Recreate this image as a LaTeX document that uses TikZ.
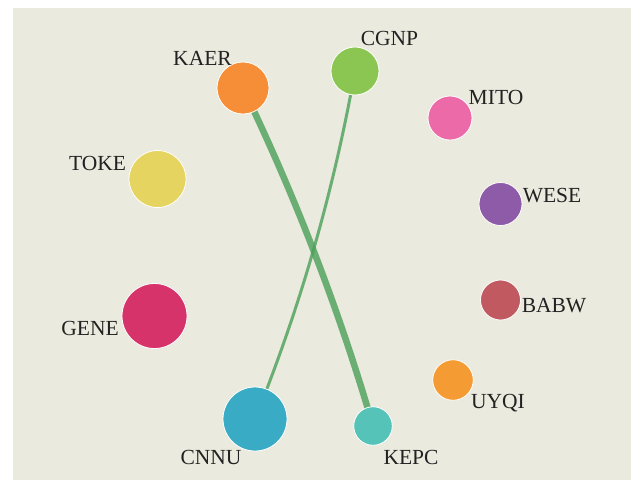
\documentclass[tikz,border=0pt]{standalone}
\usepackage{fontspec}
\setmainfont{Liberation Serif}
\definecolor{bgc}{RGB}{234,234,222}
\definecolor{linkc}{RGB}{76,160,90}
\definecolor{txtc}{RGB}{34,34,34}
\definecolor{cKAER}{RGB}{245,142,55}
\definecolor{cCGNP}{RGB}{139,198,83}
\definecolor{cMITO}{RGB}{236,106,168}
\definecolor{cTOKE}{RGB}{229,212,95}
\definecolor{cWESE}{RGB}{142,91,168}
\definecolor{cGENE}{RGB}{214,51,107}
\definecolor{cBABW}{RGB}{192,90,96}
\definecolor{cUYQI}{RGB}{245,155,51}
\definecolor{cCNNU}{RGB}{58,171,197}
\definecolor{cKEPC}{RGB}{85,195,184}
\tikzset{
  dot/.style={circle, inner sep=0pt, draw=white, line width=0.8pt},
  lbl/.style={anchor=base, text=txtc, font=\fontsize{21.5}{25}\selectfont, inner sep=0pt},
  link/.style={draw=linkc, draw opacity=0.8},
}
\begin{document}
\begin{tikzpicture}[x=1pt,y=-1pt]
\useasboundingbox (0,0) rectangle (631,480);
\fill[bgc] (13,8) rectangle (631,480);
% links (under circles)
\coordinate (kaerc) at (243,88);
\coordinate (kepcc) at (373,426);
\coordinate (cgnpc) at (355,71);
\coordinate (cnnuc) at (255,419);
\draw[link, line width=6.5pt] (kaerc) .. controls (295.7,197.1) and (339,309.7) .. (kepcc);
\draw[link, line width=3pt] (cgnpc) .. controls (333.8,190.5) and (300.5,306.5) .. (cnnuc);
% circles
\node[dot, fill=cKAER, minimum size=52pt] (KAER) at (kaerc) {};
\node[dot, fill=cCGNP, minimum size=48pt] (CGNP) at (cgnpc) {};
\node[dot, fill=cMITO, minimum size=44pt] (MITO) at (450,118) {};
\node[dot, fill=cTOKE, minimum size=57pt] (TOKE) at (157.5,179) {};
\node[dot, fill=cWESE, minimum size=43pt] (WESE) at (500.5,204) {};
\node[dot, fill=cGENE, minimum size=65pt] (GENE) at (154.5,316) {};
\node[dot, fill=cBABW, minimum size=40pt] (BABW) at (500.5,300) {};
\node[dot, fill=cUYQI, minimum size=40.5pt] (UYQI) at (453,380) {};
\node[dot, fill=cCNNU, minimum size=64pt] (CNNU) at (cnnuc) {};
\node[dot, fill=cKEPC, minimum size=38.5pt] (KEPC) at (kepcc) {};
% labels
\node[lbl] (tKAER) at (202.5,65) {KAER};
\node[lbl] (tCGNP) at (389.5,45) {CGNP};
\node[lbl] (tMITO) at (496,104) {MITO};
\node[lbl] (tTOKE) at (97.5,170.5) {TOKE};
\node[lbl] (tWESE) at (552,202.5) {WESE};
\node[lbl] (tGENE) at (90,335) {GENE};
\node[lbl] (tBABW) at (554,312.5) {BABW};
\node[lbl] (tUYQI) at (498,408) {UYQI};
\node[lbl] (tCNNU) at (211,464) {CNNU};
\node[lbl] (tKEPC) at (411,464) {KEPC};
\end{tikzpicture}
\end{document}
